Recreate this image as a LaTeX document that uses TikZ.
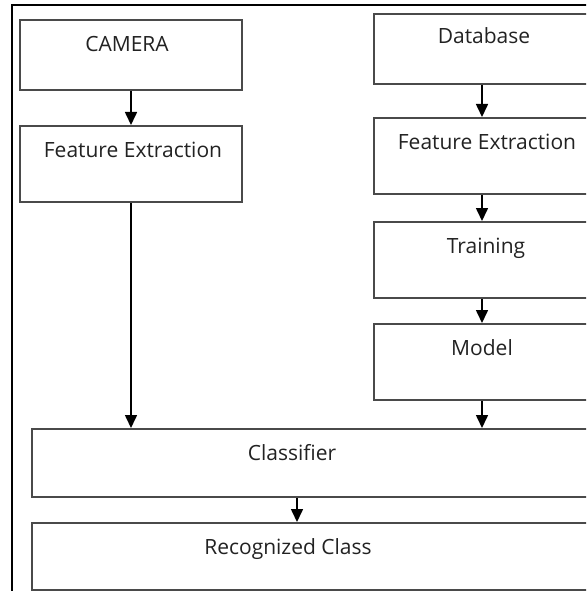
\documentclass[tikz,border=0pt]{standalone}
\usepackage{fontspec}
\setmainfont{Open Sans}
\usetikzlibrary{arrows.meta,calc}
\definecolor{boxgray}{HTML}{4A4A4A}
\definecolor{txtgray}{HTML}{222222}
\tikzset{
  box/.style={draw=boxgray, line width=2pt, anchor=north west, inner sep=0pt, minimum height=#1},
  box/.default=70pt,
  lbl/.style={anchor=base, inner sep=0pt, text=txtgray, font=\fontsize{21}{24}\selectfont},
  arr/.style={line width=1.6pt, draw=black, -{Triangle[length=13pt,width=12pt]}},
}
\begin{document}
\begin{tikzpicture}[x=1pt,y=-1pt]
\useasboundingbox (0,0) rectangle (586,591);
\clip (0,0) rectangle (586,591);
\draw[line width=2pt, black] (12,5) rectangle (620,620);
% left column
\node[box=70pt, minimum width=222pt] (cam) at (19,19) {};
\node[box=76pt, minimum width=222pt] (fe1) at (19,125) {};
% right column
\node[box=70pt, minimum width=216pt] (db) at (373,13) {};
\node[box=76pt, minimum width=216pt] (fe2) at (373,117) {};
\node[box=76pt, minimum width=216pt] (tr) at (373,221) {};
\node[box=76pt, minimum width=216pt] (mo) at (373,323) {};
% bottom
\node[box=68pt, minimum width=600pt] (cls) at (31,428) {};
\node[box=67pt, minimum width=600pt] (rec) at (31,522) {};
% labels
\node[lbl] (tcam) at ($(cam.north)+(-4,33)$) {CAMERA};
\node[lbl] (tfe1) at ($(fe1.north)+(2,32)$) {Feature Extraction};
\node[lbl] (tdb) at ($(db.north)+(2,31)$) {Database};
\node[lbl] (tfe2) at ($(fe2.north)+(5,32)$) {Feature Extraction};
\node[lbl] (ttr) at ($(tr.north)+(4,32)$) {Training};
\node[lbl] (tmo) at ($(mo.north)+(0,32)$) {Model};
\node[lbl] (tcls) at ($(cls.north west)+(261,32)$) {Classifier};
\node[lbl] (trec) at ($(rec.north west)+(257,32)$) {Recognized Class};
% arrows
\coordinate (cx) at (297,0);
\draw[arr] (cam.south) -- (fe1.north);
\draw[arr] (fe1.south) -- (fe1.south |- cls.north);
\draw[arr] (db.south) -- (fe2.north);
\draw[arr] (fe2.south) -- (tr.north);
\draw[arr] (tr.south) -- (mo.north);
\draw[arr] (mo.south) -- (mo.south |- cls.north);
\draw[arr] (cls.south -| cx) -- (rec.north -| cx);
\end{tikzpicture}
\end{document}
